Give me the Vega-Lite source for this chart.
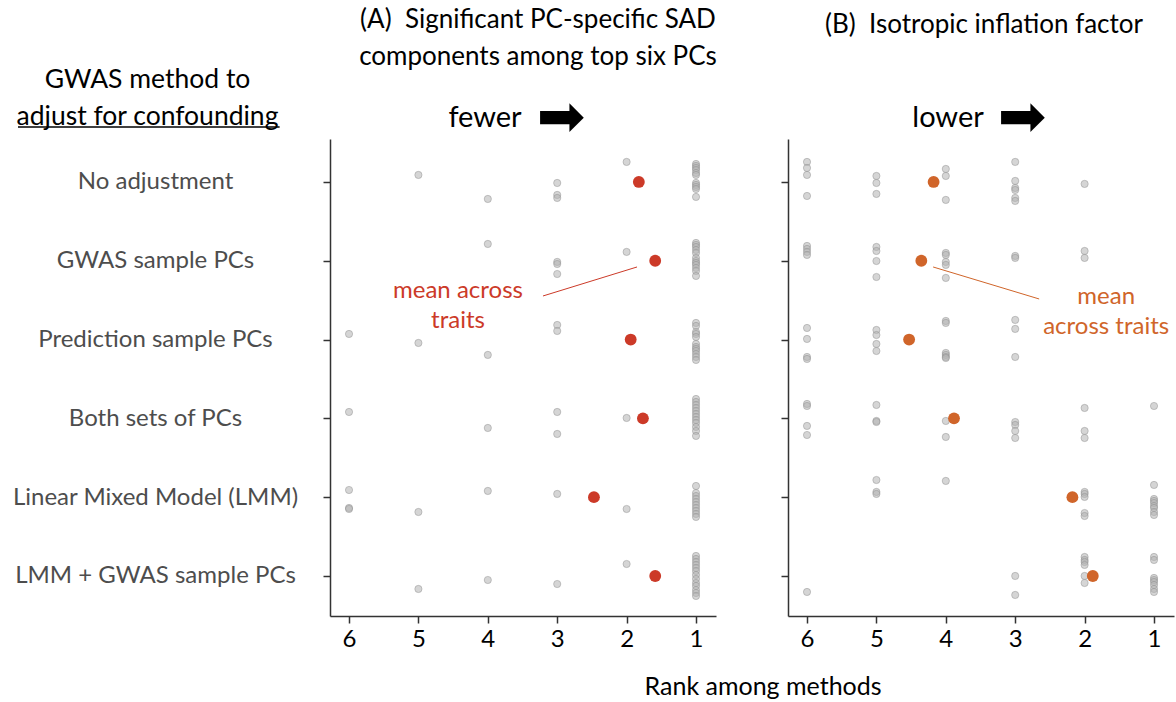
{
  "$schema": "https://vega.github.io/schema/vega-lite/v6.json",
  "padding": {"left": 12, "top": 7, "right": 5, "bottom": 2},
  "config": {
    "font": "Lato",
    "view": {"stroke": null},
    "axis": {"grid": false, "domainColor": "#333333", "domainWidth": 1.5, "tickColor": "#333333", "tickWidth": 1.5, "tickSize": 7, "labelFontSize": 24, "labelColor": "#000000", "labelFont": "Lato", "labelLimit": 400},
    "title": {"font": "Lato", "fontWeight": "normal", "color": "#000000"}
  },
  "title": {"text": "Rank among methods", "orient": "bottom", "anchor": "middle", "fontSize": 25, "dx": 170, "offset": 24},
  "spacing": 63,
  "datasets": {
    "ptsA": [
      {"rank": 5, "pos": 0.911}, {"rank": 4, "pos": 1.216}, {"rank": 3, "pos": 1.013}, {"rank": 3, "pos": 1.165}, {"rank": 3, "pos": 1.203}, {"rank": 2, "pos": 0.746},
      {"rank": 1, "pos": 0.772}, {"rank": 1, "pos": 0.797}, {"rank": 1, "pos": 0.822}, {"rank": 1, "pos": 0.848}, {"rank": 1, "pos": 0.886}, {"rank": 1, "pos": 0.911}, {"rank": 1, "pos": 1.013}, {"rank": 1, "pos": 1.038}, {"rank": 1, "pos": 1.063}, {"rank": 1, "pos": 1.089}, {"rank": 1, "pos": 1.19},
      {"rank": 4, "pos": 1.787}, {"rank": 3, "pos": 2.015}, {"rank": 3, "pos": 2.041}, {"rank": 3, "pos": 2.168}, {"rank": 2, "pos": 1.888},
      {"rank": 1, "pos": 1.774}, {"rank": 1, "pos": 1.799}, {"rank": 1, "pos": 1.825}, {"rank": 1, "pos": 1.863}, {"rank": 1, "pos": 1.901}, {"rank": 1, "pos": 1.964}, {"rank": 1, "pos": 2.003}, {"rank": 1, "pos": 2.028}, {"rank": 1, "pos": 2.053}, {"rank": 1, "pos": 2.091}, {"rank": 1, "pos": 2.129}, {"rank": 1, "pos": 2.193},
      {"rank": 6, "pos": 2.929}, {"rank": 5, "pos": 3.043}, {"rank": 4, "pos": 3.195}, {"rank": 3, "pos": 2.815}, {"rank": 3, "pos": 2.891},
      {"rank": 1, "pos": 2.789}, {"rank": 1, "pos": 2.827}, {"rank": 1, "pos": 2.904}, {"rank": 1, "pos": 2.929}, {"rank": 1, "pos": 2.967}, {"rank": 1, "pos": 3.056}, {"rank": 1, "pos": 3.094}, {"rank": 1, "pos": 3.119}, {"rank": 1, "pos": 3.145}, {"rank": 1, "pos": 3.183}, {"rank": 1, "pos": 3.221}, {"rank": 1, "pos": 3.259},
      {"rank": 6, "pos": 3.919}, {"rank": 4, "pos": 4.122}, {"rank": 3, "pos": 3.919}, {"rank": 3, "pos": 4.198}, {"rank": 2, "pos": 3.995},
      {"rank": 1, "pos": 3.754}, {"rank": 1, "pos": 3.792}, {"rank": 1, "pos": 3.83}, {"rank": 1, "pos": 3.868}, {"rank": 1, "pos": 3.906}, {"rank": 1, "pos": 3.944}, {"rank": 1, "pos": 3.982}, {"rank": 1, "pos": 4.02}, {"rank": 1, "pos": 4.058}, {"rank": 1, "pos": 4.109}, {"rank": 1, "pos": 4.16}, {"rank": 1, "pos": 4.223},
      {"rank": 6, "pos": 4.909}, {"rank": 6, "pos": 5.137}, {"rank": 6, "pos": 5.15}, {"rank": 5, "pos": 5.188}, {"rank": 4, "pos": 4.921}, {"rank": 3, "pos": 4.959}, {"rank": 2, "pos": 5.15},
      {"rank": 1, "pos": 4.858}, {"rank": 1, "pos": 4.947}, {"rank": 1, "pos": 4.985}, {"rank": 1, "pos": 5.023}, {"rank": 1, "pos": 5.061}, {"rank": 1, "pos": 5.099}, {"rank": 1, "pos": 5.137}, {"rank": 1, "pos": 5.175}, {"rank": 1, "pos": 5.213}, {"rank": 1, "pos": 5.251},
      {"rank": 5, "pos": 6.165}, {"rank": 4, "pos": 6.051}, {"rank": 3, "pos": 6.102}, {"rank": 2, "pos": 5.848},
      {"rank": 1, "pos": 5.746}, {"rank": 1, "pos": 5.784}, {"rank": 1, "pos": 5.822}, {"rank": 1, "pos": 5.86}, {"rank": 1, "pos": 5.898}, {"rank": 1, "pos": 5.937}, {"rank": 1, "pos": 5.987}, {"rank": 1, "pos": 6.038}, {"rank": 1, "pos": 6.089}, {"rank": 1, "pos": 6.127}, {"rank": 1, "pos": 6.178}, {"rank": 1, "pos": 6.216}, {"rank": 1, "pos": 6.254}
    ],
    "meanA": [
      {"rank": 1.824, "pos": 1}, {"rank": 1.588, "pos": 2}, {"rank": 1.941, "pos": 3}, {"rank": 1.765, "pos": 4}, {"rank": 2.471, "pos": 5}, {"rank": 1.588, "pos": 6}
    ],
    "ptsB": [
      {"rank": 6, "pos": 0.746}, {"rank": 6, "pos": 0.822}, {"rank": 6, "pos": 0.911}, {"rank": 6, "pos": 1.178},
      {"rank": 5, "pos": 0.924}, {"rank": 5, "pos": 1.013}, {"rank": 5, "pos": 1.152},
      {"rank": 4, "pos": 0.835}, {"rank": 4, "pos": 0.924}, {"rank": 4, "pos": 1.228},
      {"rank": 3, "pos": 0.746}, {"rank": 3, "pos": 0.987}, {"rank": 3, "pos": 1.076}, {"rank": 3, "pos": 1.102}, {"rank": 3, "pos": 1.203}, {"rank": 3, "pos": 1.241},
      {"rank": 2, "pos": 1.025},
      {"rank": 6, "pos": 1.812}, {"rank": 6, "pos": 1.85}, {"rank": 6, "pos": 1.888}, {"rank": 6, "pos": 1.926},
      {"rank": 5, "pos": 1.825}, {"rank": 5, "pos": 1.876}, {"rank": 5, "pos": 2.003}, {"rank": 5, "pos": 2.206},
      {"rank": 4, "pos": 1.901}, {"rank": 4, "pos": 1.926}, {"rank": 4, "pos": 2.015}, {"rank": 4, "pos": 2.053}, {"rank": 4, "pos": 2.218},
      {"rank": 3, "pos": 1.939}, {"rank": 3, "pos": 1.964},
      {"rank": 2, "pos": 1.876}, {"rank": 2, "pos": 1.964},
      {"rank": 6, "pos": 2.853}, {"rank": 6, "pos": 2.992}, {"rank": 6, "pos": 3.221}, {"rank": 6, "pos": 3.246},
      {"rank": 5, "pos": 2.878}, {"rank": 5, "pos": 2.942}, {"rank": 5, "pos": 3.056}, {"rank": 5, "pos": 3.145},
      {"rank": 4, "pos": 2.764}, {"rank": 4, "pos": 2.789}, {"rank": 4, "pos": 3.17}, {"rank": 4, "pos": 3.195}, {"rank": 4, "pos": 3.221}, {"rank": 4, "pos": 3.234},
      {"rank": 3, "pos": 2.751}, {"rank": 3, "pos": 2.865}, {"rank": 3, "pos": 3.221},
      {"rank": 6, "pos": 3.817}, {"rank": 6, "pos": 3.843}, {"rank": 6, "pos": 4.096}, {"rank": 6, "pos": 4.211},
      {"rank": 5, "pos": 3.83}, {"rank": 5, "pos": 4.033}, {"rank": 5, "pos": 4.046},
      {"rank": 4, "pos": 4.033}, {"rank": 4, "pos": 4.236},
      {"rank": 3, "pos": 4.046}, {"rank": 3, "pos": 4.084}, {"rank": 3, "pos": 4.16}, {"rank": 3, "pos": 4.249},
      {"rank": 2, "pos": 3.868}, {"rank": 2, "pos": 4.16}, {"rank": 2, "pos": 4.249},
      {"rank": 1, "pos": 3.843},
      {"rank": 5, "pos": 4.782}, {"rank": 5, "pos": 4.934}, {"rank": 5, "pos": 4.959},
      {"rank": 4, "pos": 4.794},
      {"rank": 2, "pos": 4.934}, {"rank": 2, "pos": 4.959}, {"rank": 2, "pos": 4.997}, {"rank": 2, "pos": 5.201}, {"rank": 2, "pos": 5.239},
      {"rank": 1, "pos": 4.845}, {"rank": 1, "pos": 5.023}, {"rank": 1, "pos": 5.048}, {"rank": 1, "pos": 5.074}, {"rank": 1, "pos": 5.112}, {"rank": 1, "pos": 5.137}, {"rank": 1, "pos": 5.188}, {"rank": 1, "pos": 5.226},
      {"rank": 6, "pos": 6.203},
      {"rank": 3, "pos": 6.0}, {"rank": 3, "pos": 6.241},
      {"rank": 2, "pos": 5.759}, {"rank": 2, "pos": 5.797}, {"rank": 2, "pos": 5.822}, {"rank": 2, "pos": 5.86}, {"rank": 2, "pos": 6.0}, {"rank": 2, "pos": 6.089},
      {"rank": 1, "pos": 5.759}, {"rank": 1, "pos": 5.797}, {"rank": 1, "pos": 6.025}, {"rank": 1, "pos": 6.051}, {"rank": 1, "pos": 6.076}, {"rank": 1, "pos": 6.114}, {"rank": 1, "pos": 6.165}, {"rank": 1, "pos": 6.203}
    ],
    "meanB": [
      {"rank": 4.176, "pos": 1}, {"rank": 4.353, "pos": 2}, {"rank": 4.529, "pos": 3}, {"rank": 3.882, "pos": 4}, {"rank": 2.176, "pos": 5}, {"rank": 1.882, "pos": 6}
    ],
    "leaderA": [{"rank": 1.85, "rank2": 3.205, "pos": 2.079, "pos2": 2.447}],
    "noteA": [{"rank": 4.43, "pos": 2.384, "label": "mean across\ntraits"}],
    "leaderB": [{"rank": 4.183, "rank2": 2.655, "pos": 2.079, "pos2": 2.485}],
    "noteB": [{"rank": 1.689, "pos": 2.46, "label": "mean\nacross traits"}],
    "underline": [{"rank": 10.77, "rank2": 7.0, "pos": 0.303}],
    "dirA": [{"rank": 4.04, "pos": 0.188, "label": "fewer"}],
    "arrowA": [{"rank": 2.945, "pos": 0.2, "label": "\u27a1"}],
    "dirB": [{"rank": 3.968, "pos": 0.188, "label": "lower"}],
    "arrowB": [{"rank": 2.9, "pos": 0.2, "label": "\u27a1"}]
  },
  "hconcat": [
    {
      "width": 386,
      "height": 477,
      "title": {"text": ["(A)\u00a0 Significant PC-specific SAD", "components among top six PCs"], "anchor": "middle", "fontSize": 26, "lineHeight": 37, "offset": -4, "dx": 15},
      "layer": [
        {
          "data": {"name": "ptsA"},
          "mark": {"type": "circle", "size": 52, "color": "#b3b3b3", "fillOpacity": 0.55, "stroke": "#8c8c8c", "strokeOpacity": 0.45, "strokeWidth": 1},
          "encoding": {
            "x": {"field": "rank", "type": "quantitative", "scale": {"domain": [0.712, 6.274], "reverse": true, "nice": false, "zero": false}, "axis": {"values": [1, 2, 3, 4, 5, 6], "format": "d", "title": null, "labelPadding": 4}},
            "y": {"field": "pos", "type": "quantitative", "scale": {"domain": [0.455, 6.508], "reverse": true, "nice": false, "zero": false},
              "axis": {"values": [1, 2, 3, 4, 5, 6], "labelExpr": "['No adjustment','GWAS sample PCs','Prediction sample PCs','Both sets of PCs','Linear Mixed Model (LMM)','LMM + GWAS sample PCs'][datum.value - 1]", "labelAlign": "center", "labelBaseline": "middle", "labelPadding": 168, "labelColor": "#4d4d4d", "labelFontSize": 24,
                "title": ["GWAS method to", "adjust for confounding"], "titleAngle": 0, "titleAlign": "center", "titleBaseline": "middle", "titleX": -183, "titleY": -60, "titleFontSize": 26.5, "titleFontWeight": "normal", "titleColor": "#000000", "titleLineHeight": 37}}
          }
        },
        {
          "data": {"name": "underline"},
          "mark": {"type": "rule", "color": "#000000", "strokeWidth": 1.5, "clip": false},
          "encoding": {"x": {"field": "rank", "type": "quantitative"}, "x2": {"field": "rank2"}, "y": {"field": "pos", "type": "quantitative"}}
        },
        {
          "data": {"name": "dirA"},
          "mark": {"type": "text", "color": "#000000", "fontSize": 29, "align": "center", "baseline": "middle", "clip": false},
          "encoding": {"x": {"field": "rank", "type": "quantitative"}, "y": {"field": "pos", "type": "quantitative"}, "text": {"field": "label"}}
        },
        {
          "data": {"name": "arrowA"},
          "mark": {"type": "text", "color": "#000000", "font": "DejaVu Sans", "fontSize": 58, "align": "center", "baseline": "middle", "clip": false},
          "encoding": {"x": {"field": "rank", "type": "quantitative"}, "y": {"field": "pos", "type": "quantitative"}, "text": {"field": "label"}}
        },
        {
          "data": {"name": "leaderA"},
          "mark": {"type": "rule", "color": "#CC3A28", "strokeWidth": 1},
          "encoding": {"x": {"field": "rank", "type": "quantitative"}, "x2": {"field": "rank2"}, "y": {"field": "pos", "type": "quantitative"}, "y2": {"field": "pos2"}}
        },
        {
          "data": {"name": "meanA"},
          "mark": {"type": "circle", "size": 140, "color": "#CC3A28", "opacity": 1},
          "encoding": {"x": {"field": "rank", "type": "quantitative"}, "y": {"field": "pos", "type": "quantitative"}}
        },
        {
          "data": {"name": "noteA"},
          "mark": {"type": "text", "color": "#CC3A28", "fontSize": 24, "lineBreak": "\n", "lineHeight": 30, "align": "center", "baseline": "middle"},
          "encoding": {"x": {"field": "rank", "type": "quantitative"}, "y": {"field": "pos", "type": "quantitative"}, "text": {"field": "label"}}
        }
      ]
    },
    {
      "width": 386,
      "height": 477,
      "title": {"text": ["(B)\u00a0 Isotropic inflation factor", " "], "anchor": "middle", "fontSize": 26, "lineHeight": 37, "offset": 15, "dx": 3},
      "layer": [
        {
          "data": {"name": "ptsB"},
          "mark": {"type": "circle", "size": 52, "color": "#b3b3b3", "fillOpacity": 0.55, "stroke": "#8c8c8c", "strokeOpacity": 0.45, "strokeWidth": 1},
          "encoding": {
            "x": {"field": "rank", "type": "quantitative", "scale": {"domain": [0.712, 6.274], "reverse": true, "nice": false, "zero": false}, "axis": {"values": [1, 2, 3, 4, 5, 6], "format": "d", "title": null, "labelPadding": 4}},
            "y": {"field": "pos", "type": "quantitative", "scale": {"domain": [0.455, 6.508], "reverse": true, "nice": false, "zero": false}, "axis": {"values": [1, 2, 3, 4, 5, 6], "labels": false, "title": null}}
          }
        },
        {
          "data": {"name": "dirB"},
          "mark": {"type": "text", "color": "#000000", "fontSize": 29, "align": "center", "baseline": "middle", "clip": false},
          "encoding": {"x": {"field": "rank", "type": "quantitative"}, "y": {"field": "pos", "type": "quantitative"}, "text": {"field": "label"}}
        },
        {
          "data": {"name": "arrowB"},
          "mark": {"type": "text", "color": "#000000", "font": "DejaVu Sans", "fontSize": 58, "align": "center", "baseline": "middle", "clip": false},
          "encoding": {"x": {"field": "rank", "type": "quantitative"}, "y": {"field": "pos", "type": "quantitative"}, "text": {"field": "label"}}
        },
        {
          "data": {"name": "leaderB"},
          "mark": {"type": "rule", "color": "#D0652A", "strokeWidth": 1},
          "encoding": {"x": {"field": "rank", "type": "quantitative"}, "x2": {"field": "rank2"}, "y": {"field": "pos", "type": "quantitative"}, "y2": {"field": "pos2"}}
        },
        {
          "data": {"name": "meanB"},
          "mark": {"type": "circle", "size": 140, "color": "#D0652A", "opacity": 1},
          "encoding": {"x": {"field": "rank", "type": "quantitative"}, "y": {"field": "pos", "type": "quantitative"}}
        },
        {
          "data": {"name": "noteB"},
          "mark": {"type": "text", "color": "#D0652A", "fontSize": 24, "lineBreak": "\n", "lineHeight": 30, "align": "center", "baseline": "middle", "clip": false},
          "encoding": {"x": {"field": "rank", "type": "quantitative"}, "y": {"field": "pos", "type": "quantitative"}, "text": {"field": "label"}}
        }
      ]
    }
  ]
}
